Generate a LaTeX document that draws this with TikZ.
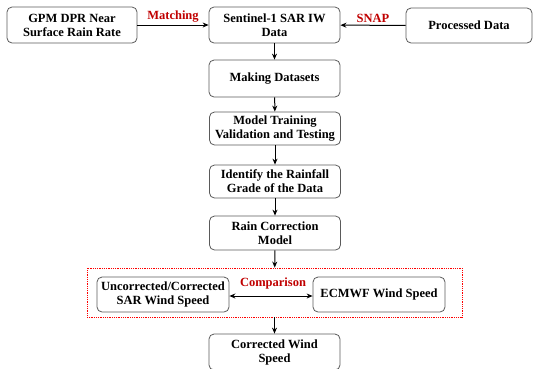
\documentclass[tikz,border=0pt]{standalone}
\usepackage{fontspec}
\setmainfont{Liberation Serif}
\usepackage{tikz}
\usetikzlibrary{calc}
\usetikzlibrary{shapes}
\usetikzlibrary{arrows.meta}

\definecolor{boxgray}{HTML}{5A5A5A}
\definecolor{labelred}{HTML}{C00000}
\tikzset{
  stepbox/.style={draw=boxgray, line width=0.8pt, rounded corners=5pt, align=center,
    font=\fontsize{12.5}{14}\selectfont\bfseries, inner sep=2pt, minimum height=35pt, minimum width=131pt},
  redlabel/.style={text=labelred, font=\fontsize{12.5}{14}\selectfont\bfseries, inner sep=2pt},
  flow/.style={->, >={Stealth[length=6pt,width=5pt]}, line width=1pt}
}

\begin{document}
\begin{tikzpicture}[x=1pt,y=-1pt]
\useasboundingbox (0,0) rectangle (533,368);
\node (gpm) at (72,25) [stepbox, minimum width=130pt, minimum height=36pt] {GPM DPR Near\\Surface Rain Rate};
\node (sar) at (274.5,25) [stepbox, minimum height=36pt] {Sentinel-1 SAR IW\\Data};
\node (proc) at (469,25.5) [stepbox, minimum width=126pt] {Processed Data};
\node (sets) at (274.5,78.5) [stepbox, minimum height=37pt] {Making Datasets};
\node (train) at (275,128.5) [stepbox, minimum height=33pt] {Model Training\\Validation and Testing};
\node (grade) at (275,181.5) [stepbox, minimum height=33pt] {Identify the Rainfall\\Grade of the Data};
\node (rain) at (275,233) [stepbox, minimum height=34pt] {Rain Correction\\Model};
\node (cmp) at (274.5,292.5) [draw=red, densely dotted, line width=0.8pt, minimum width=375pt, minimum height=49pt] {};
\node (uncorr) at (163,294.5) [stepbox, minimum width=132pt] {Uncorrected/Corrected\\SAR Wind Speed};
\node (ecmwf) at (379,294.5) [stepbox, minimum width=132pt] {ECMWF Wind Speed};
\node (cmplabel) at (273,283) [redlabel] {Comparison};
\node (wind) at (274.5,352) [stepbox, minimum height=36pt] {Corrected Wind\\Speed};
\draw [flow] (gpm) -- (sar) node [midway, above, redlabel] {Matching};
\draw [flow] (proc) -- (sar) node [midway, above, redlabel] {SNAP};
\draw [flow] (sar) -- (sets);
\draw [flow] (sets) -- (train);
\draw [flow] (train) -- (grade);
\draw [flow] (grade) -- (rain);
\draw [flow] (rain) -- (cmp);
\draw [flow, <->] ([yshift=-1.5pt]uncorr.east) -- ([yshift=-1.5pt]ecmwf.west);
\draw [flow] (cmp) -- (wind);
\end{tikzpicture}
\end{document}
